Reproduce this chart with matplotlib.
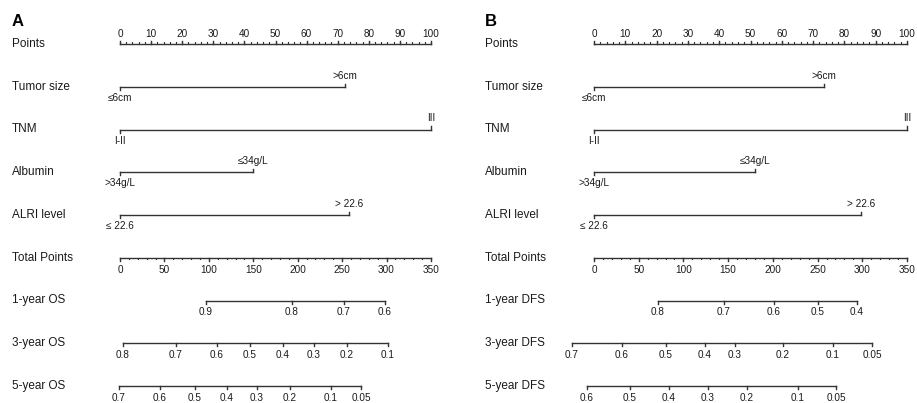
import matplotlib
matplotlib.use('Agg')
import matplotlib.pyplot as plt
import matplotlib.transforms as mtransforms
import numpy as np

plt.rcParams['font.family'] = ['Liberation Sans', 'DejaVu Sans']

# 行名（两图共用前六行）
row_names_a = ['Points', 'Tumor size', 'TNM', 'Albumin', 'ALRI level', 'Total Points',
               '1-year OS', '3-year OS', '5-year OS']
row_names_b = ['Points', 'Tumor size', 'TNM', 'Albumin', 'ALRI level', 'Total Points',
               '1-year DFS', '3-year DFS', '5-year DFS']

# 变量水平及对应分数 (0-100)
tumor_levels = ['≤6cm', '>6cm']
tnm_levels = ['I-II', 'III']
albumin_levels = ['>34g/L', '≤34g/L']
alri_levels = ['≤ 22.6', '> 22.6']

tumor_pts_a = [0, 72.3]
tnm_pts_a = [0, 100]
albumin_pts_a = [0, 42.8]
alri_pts_a = [0, 73.6]

tumor_pts_b = [0, 73.5]
tnm_pts_b = [0, 100]
albumin_pts_b = [0, 51.4]
alri_pts_b = [0, 85.3]

# 生存概率刻度（以总分表示）
os1_labels = ['0.9', '0.8', '0.7', '0.6']
os1_tp = [96.8, 193.6, 252.1, 298.2]
os3_labels = ['0.8', '0.7', '0.6', '0.5', '0.4', '0.3', '0.2', '0.1']
os3_tp = [3.4, 63.0, 109.2, 146.3, 183.4, 218.3, 255.5, 301.6]
os5_labels = ['0.7', '0.6', '0.5', '0.4', '0.3', '0.2', '0.1', '0.05']
os5_tp = [-1.1, 45.0, 84.4, 120.4, 154.2, 191.3, 237.5, 271.2]

dfs1_labels = ['0.8', '0.7', '0.6', '0.5', '0.4']
dfs1_tp = [71.6, 145.4, 201.3, 250.5, 294.1]
dfs3_labels = ['0.7', '0.6', '0.5', '0.4', '0.3', '0.2', '0.1', '0.05']
dfs3_tp = [-24.6, 31.3, 80.5, 124.1, 157.7, 211.3, 267.3, 310.9]
dfs5_labels = ['0.6', '0.5', '0.4', '0.3', '0.2', '0.1', '0.05']
dfs5_tp = [-7.8, 40.3, 83.9, 127.5, 171.1, 228.1, 270.6]

points_ticks = np.arange(0, 101, 10)
points_minor = np.arange(0, 101, 2)
total_ticks = np.arange(0, 351, 50)
total_minor = np.arange(0, 351, 10)
TOTAL_MAX = 350

W, H = 917, 403
LC = '#333333'
TC = '#1a1a1a'
LAB_FS = 8.5
TICK_FS = 7.2
MAJ = 0.075
MIN = 0.04


def label(ax, text, x, y, dy):
    ax.annotate(text, (x, y), xytext=(0, dy), textcoords='offset points',
                ha='center', va='center', fontsize=TICK_FS, color=TC,
                annotation_clip=False)


def level_row(ax, row, pts, labels):
    ax.plot([pts[0], pts[-1]], [row, row], color=LC, lw=1.0, clip_on=False)
    for i, (p, lab) in enumerate(zip(pts, labels)):
        up = (i % 2 == 1)
        d = -MAJ if up else MAJ
        ax.plot([p, p], [row, row + d], color=LC, lw=1.0, clip_on=False)
        label(ax, lab, p, row, 8 if up else -8)


def prob_row(ax, row, tp, labels):
    x = np.array(tp) * 100.0 / TOTAL_MAX
    ax.plot([x[0], x[-1]], [row, row], color=LC, lw=1.0, clip_on=False)
    for p, lab in zip(x, labels):
        ax.plot([p, p], [row, row + MAJ], color=LC, lw=1.0, clip_on=False)
        label(ax, lab, p, row, -8.5)


def draw_panel(ax, letter, names, label_x, var_pts, probs):
    ax.set_xlim(0, 100)
    ax.set_ylim(8, 0)
    ax.axis('off')
    tr = mtransforms.blended_transform_factory(ax.figure.transFigure, ax.transData)
    for r, name in enumerate(names):
        ax.text(label_x / W, r, name, transform=tr, ha='left', va='center',
                fontsize=LAB_FS, color=TC)
    ax.text(label_x / W, -0.53, letter, transform=tr, ha='left', va='center',
            fontsize=12, fontweight='bold', color='black')

    # Points 轴
    ax.plot([0, 100], [0, 0], color=LC, lw=1.0, clip_on=False)
    for p in points_minor:
        ax.plot([p, p], [0, -MIN], color=LC, lw=0.8, clip_on=False)
    for p in points_ticks:
        ax.plot([p, p], [0, -MAJ], color=LC, lw=1.0, clip_on=False)
        label(ax, str(p), p, 0, 7.5)

    level_row(ax, 1, var_pts[0], tumor_levels)
    level_row(ax, 2, var_pts[1], tnm_levels)
    level_row(ax, 3, var_pts[2], albumin_levels)
    level_row(ax, 4, var_pts[3], alri_levels)

    # Total Points 轴
    ax.plot([0, 100], [5, 5], color=LC, lw=1.0, clip_on=False)
    for t in total_minor:
        p = t * 100.0 / TOTAL_MAX
        ax.plot([p, p], [5, 5 + MIN], color=LC, lw=0.8, clip_on=False)
    for t in total_ticks:
        p = t * 100.0 / TOTAL_MAX
        ax.plot([p, p], [5, 5 + MAJ], color=LC, lw=1.0, clip_on=False)
        label(ax, str(t), p, 5, -8.5)

    for k, (tp, labs) in enumerate(probs):
        prob_row(ax, 6 + k, tp, labs)


fig = plt.figure(figsize=(W / 100, H / 100), dpi=100)
top_px, bot_px = 44, 386
ax_a = fig.add_axes([120 / W, (H - bot_px) / H, (431 - 120) / W, (bot_px - top_px) / H])
ax_b = fig.add_axes([594 / W, (H - bot_px) / H, (907 - 594) / W, (bot_px - top_px) / H])

draw_panel(ax_a, 'A', row_names_a, 12,
           [tumor_pts_a, tnm_pts_a, albumin_pts_a, alri_pts_a],
           [(os1_tp, os1_labels), (os3_tp, os3_labels), (os5_tp, os5_labels)])
draw_panel(ax_b, 'B', row_names_b, 485,
           [tumor_pts_b, tnm_pts_b, albumin_pts_b, alri_pts_b],
           [(dfs1_tp, dfs1_labels), (dfs3_tp, dfs3_labels), (dfs5_tp, dfs5_labels)])

fig.savefig('out.png', dpi=100)
